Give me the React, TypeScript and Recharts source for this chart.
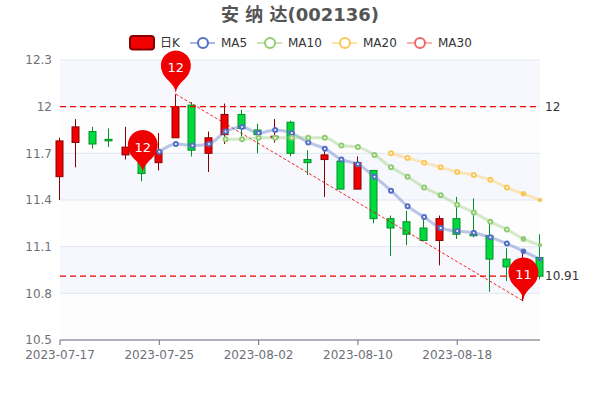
import { Bar, CartesianGrid, ComposedChart, Line, ReferenceDot, ReferenceLine, XAxis, YAxis } from 'recharts';

const dates = [
  '2023-07-17', '2023-07-18', '2023-07-19', '2023-07-20', '2023-07-21', '2023-07-24',
  '2023-07-25', '2023-07-26', '2023-07-27', '2023-07-28', '2023-07-31', '2023-08-01',
  '2023-08-02', '2023-08-03', '2023-08-04', '2023-08-07', '2023-08-08', '2023-08-09',
  '2023-08-10', '2023-08-11', '2023-08-14', '2023-08-15', '2023-08-16', '2023-08-17',
  '2023-08-18', '2023-08-21', '2023-08-22', '2023-08-23', '2023-08-24', '2023-08-25',
];
const opens = [11.55, 11.77, 11.84, 11.79, 11.69, 11.72, 11.64, 11.8, 12.01, 11.7, 11.82, 11.95, 11.85, 11.8, 11.9, 11.66, 11.66, 11.65, 11.47, 11.59, 11.28, 11.26, 11.22, 11.14, 11.28, 11.18, 11.17, 11.02, 10.92, 11.03];
const closes = [11.78, 11.87, 11.76, 11.78, 11.74, 11.57, 11.71, 12, 11.72, 11.8, 11.95, 11.86, 11.82, 11.81, 11.7, 11.64, 11.69, 11.47, 11.64, 11.28, 11.22, 11.18, 11.14, 11.28, 11.18, 11.17, 11.02, 10.97, 11, 10.91];
const lows = [11.4, 11.61, 11.73, 11.74, 11.66, 11.52, 11.59, 11.8, 11.68, 11.58, 11.76, 11.81, 11.7, 11.77, 11.68, 11.56, 11.42, 11.47, 11.47, 11.25, 11.04, 11.11, 11.14, 10.98, 11.15, 11.16, 10.81, 10.88, 10.75, 10.89];
const highs = [11.8, 11.92, 11.87, 11.86, 11.87, 11.75, 11.83, 12.08, 12.03, 11.84, 12.02, 11.98, 11.89, 11.92, 11.91, 11.72, 11.73, 11.65, 11.68, 11.59, 11.3, 11.33, 11.28, 11.3, 11.42, 11.41, 11.25, 11.09, 11.06, 11.18];
const ma5 = [null, null, null, null, null, null, 11.71, 11.76, 11.75, 11.76, 11.84, 11.87, 11.83, 11.85, 11.83, 11.77, 11.73, 11.66, 11.63, 11.55, 11.46, 11.36, 11.29, 11.22, 11.2, 11.19, 11.16, 11.12, 11.07, 11.02];
const ma10 = [null, null, null, null, null, null, null, null, null, null, 11.79, 11.79, 11.8, 11.8, 11.8, 11.8, 11.8, 11.75, 11.74, 11.69, 11.61, 11.55, 11.48, 11.43, 11.37, 11.32, 11.26, 11.21, 11.15, 11.11];
const ma20 = [null, null, null, null, null, null, null, null, null, null, null, null, null, null, null, null, null, null, null, null, 11.7, 11.67, 11.64, 11.61, 11.58, 11.56, 11.53, 11.48, 11.44, 11.4];
const ma30 = dates.map(() => null);
const yTicks = [10.5, 10.8, 11.1, 11.4, 11.7, 12, 12.3];

const table = dates.map((date, i) => ({
  date,
  open: opens[i],
  close: closes[i],
  range: [lows[i], highs[i]],
  ma5: ma5[i],
  ma10: ma10[i],
  ma20: ma20[i],
  ma30: ma30[i],
}));

const legendLines = [
  { name: 'MA5', color: '#5470c6', x: 190 },
  { name: 'MA10', color: '#91cc75', x: 257 },
  { name: 'MA20', color: '#fac858', x: 332 },
  { name: 'MA30', color: '#ee6666', x: 407 },
];

function Candle(props: any) {
  const { x, y, width, height, payload } = props;
  const [low, high] = payload.range;
  const perUnit = height / (high - low);
  const top = y + (high - Math.max(payload.open, payload.close)) * perUnit;
  const bottom = y + (high - Math.min(payload.open, payload.close)) * perUnit;
  const rising = payload.close >= payload.open;
  const mid = Math.round(x + width / 2) - 0.5;
  const fill = rising ? '#f00000' : '#00da3c';
  const border = rising ? '#8a0000' : '#008f28';
  return (
    <g>
      <line x1={mid} x2={mid} y1={y} y2={y + height} stroke={border} strokeWidth={1} />
      <rect x={mid - 3.5} y={top} width={7} height={Math.max(bottom - top, 1)} fill={fill} stroke={border} strokeWidth={1} />
    </g>
  );
}

// same outline as the echarts pin symbol, tip at 0,0
function Pin(props: any) {
  const { cx, cy, text } = props;
  if (cx == null || cy == null) return null;
  const path =
    'M-13.5,-22.14 A15,15 0 1 1 13.5,-22.14 C11.9,-14.9 0,-10.5 0,0 C0,-10.5 -11.9,-14.9 -13.5,-22.14 Z';
  return (
    <g transform={`translate(${cx},${cy})`}>
      <path d={path} fill="#f00000" />
      <text x={0} y={-22} textAnchor="middle" fill="#fff" fontSize={13}>
        {text}
      </text>
    </g>
  );
}

const maDot = (color: string) => (props: any) => {
  const { cx, cy, index, value } = props;
  if (value == null || cy == null) return <g key={index} />;
  const r = index >= 29 ? 1.2 : index === 28 ? 1.8 : 2;
  return <circle key={index} cx={cx} cy={cy} r={r} fill={index >= 28 ? color : '#fff'} stroke={color} strokeWidth={2} />;
};

function Header() {
  return (
    <svg width={600} height={56} style={{ position: 'absolute', left: 0, top: 0 }}>
      <text x={300} y={21} textAnchor="middle" fontSize={18} fontWeight="bold" fill="#555">
        安 纳 达(002136)
      </text>
      <rect x={130} y={36} width={24} height={13.5} rx={3} fill="#f00000" stroke="#8a0000" strokeWidth={2} />
      <text x={160} y={47} fontSize={12} fill="#333">
        日K
      </text>
      {legendLines.map((item) => (
        <g key={item.name}>
          <line x1={item.x} x2={item.x + 25} y1={43} y2={43} stroke={item.color} strokeWidth={2} opacity={0.5} />
          <circle cx={item.x + 13} cy={43} r={5} fill="#fff" stroke={item.color} strokeWidth={2} />
          <text x={item.x + 31} y={47} fontSize={12} fill="#333">
            {item.name}
          </text>
        </g>
      ))}
    </svg>
  );
}

export default function App() {
  const axisTick = { fill: '#6e7079', fontSize: 12 };
  return (
    <div style={{ position: 'absolute', left: 0, top: 0, width: 600, height: 400, fontFamily: '"DejaVu Sans", "Noto Sans CJK SC", sans-serif' }}>
      <ComposedChart width={600} height={400} data={table} margin={{ top: 60, right: 60, bottom: 0, left: 0 }}>
        <CartesianGrid vertical={false} stroke="#e0e6f1" horizontalFill={['#f7f8fd', '#fdfdfd']} />
        <XAxis
          dataKey="date"
          scale="point"
          padding={{ left: 0, right: 0 }}
          interval={5}
          height={60}
          tick={axisTick}
          tickSize={5}
          tickMargin={5}
          stroke="#6e7079"
        />
        <YAxis
          domain={[10.5, 12.3]}
          ticks={yTicks}
          width={60}
          axisLine={false}
          tickLine={false}
          tickSize={0}
          tickMargin={8}
          tick={axisTick}
        />
        <ReferenceLine y={12} stroke="#f00000" strokeWidth={1.2} strokeDasharray="6 4" label={{ value: '12', position: 'right', fill: '#333', fontSize: 12 }} />
        <ReferenceLine y={10.91} stroke="#f00000" strokeWidth={1.2} strokeDasharray="6 4" label={{ value: '10.91', position: 'right', fill: '#333', fontSize: 12 }} />
        <Bar dataKey="range" barSize={8} shape={Candle} isAnimationActive={false} />
        <ReferenceLine
          segment={[
            { x: dates[7], y: 12.08 },
            { x: dates[28], y: 10.75 },
          ]}
          stroke="#f00000"
          strokeOpacity={0.85}
          strokeDasharray="3 2"
        />
        <Line dataKey="ma5" type="monotone" stroke="#5470c6" strokeOpacity={0.4} strokeWidth={3} dot={maDot('#5470c6')} isAnimationActive={false} connectNulls={false} />
        <Line dataKey="ma10" type="monotone" stroke="#91cc75" strokeOpacity={0.4} strokeWidth={3} dot={maDot('#91cc75')} isAnimationActive={false} connectNulls={false} />
        <Line dataKey="ma20" type="monotone" stroke="#fac858" strokeOpacity={0.4} strokeWidth={3} dot={maDot('#fac858')} isAnimationActive={false} connectNulls={false} />
        <Line dataKey="ma30" type="monotone" stroke="#ee6666" strokeOpacity={0.4} strokeWidth={3} dot={false} isAnimationActive={false} />
        <ReferenceDot x={dates[5]} y={11.57} shape={(p: any) => <Pin {...p} text="12" />} />
        <ReferenceDot x={dates[7]} y={12.08} shape={(p: any) => <Pin {...p} text="12" />} />
        <ReferenceDot x={dates[28]} y={10.75} shape={(p: any) => <Pin {...p} text="11" />} />
      </ComposedChart>
      <Header />
    </div>
  );
}
